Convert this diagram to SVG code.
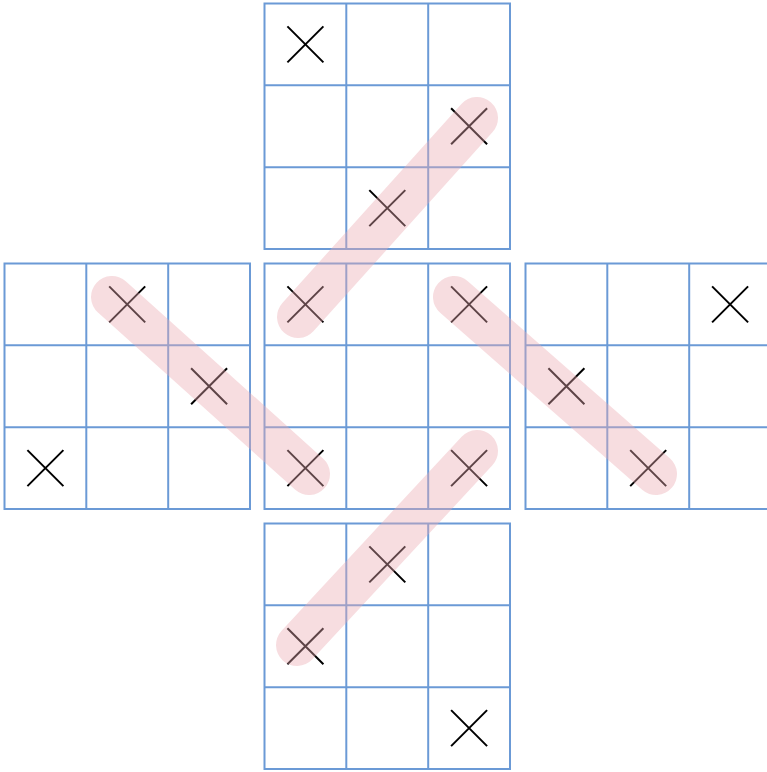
<svg xmlns="http://www.w3.org/2000/svg" xmlns:xlink="http://www.w3.org/1999/xlink" width="767" height="772" viewBox="0 0 767 772">
<style>
.grid line,.grid rect{stroke:#6b9ad6;stroke-width:2;fill:none}
.x{stroke:#000;stroke-width:2;fill:none}
.band{stroke:#ecaab2;stroke-opacity:0.4;stroke-width:42;stroke-linecap:round;fill:none}
</style>
<defs>
<g id="gridT" class="grid">
<rect x="0" y="0" width="245.5" height="245.5"/>
<line x1="81.8" y1="0" x2="81.8" y2="245.5"/>
<line x1="163.7" y1="0" x2="163.7" y2="245.5"/>
<line x1="0" y1="81.8" x2="245.5" y2="81.8"/>
<line x1="0" y1="163.7" x2="245.5" y2="163.7"/>
</g>
<path id="xm" d="M-18,-18L18,18M18,-18L-18,18"/>
</defs>
<rect width="767" height="772" fill="#fff"/>
<g id="grid-top"><use xlink:href="#gridT" x="264.5" y="3.5"/></g>
<g id="grid-left"><use xlink:href="#gridT" x="4.5" y="263.5"/></g>
<g id="grid-center"><use xlink:href="#gridT" x="264.5" y="263.5"/></g>
<g id="grid-right"><use xlink:href="#gridT" x="525.5" y="263.5"/></g>
<g id="grid-bottom"><use xlink:href="#gridT" x="264.5" y="523.5"/></g>
<g id="marks" class="x">
<use xlink:href="#xm" x="305.4" y="44.4"/>
<use xlink:href="#xm" x="469.1" y="126.3"/>
<use xlink:href="#xm" x="387.3" y="208.1"/>
<use xlink:href="#xm" x="127.2" y="304.4"/>
<use xlink:href="#xm" x="209.1" y="386.3"/>
<use xlink:href="#xm" x="45.4" y="468.1"/>
<use xlink:href="#xm" x="305.4" y="304.4"/>
<use xlink:href="#xm" x="469.1" y="304.4"/>
<use xlink:href="#xm" x="305.4" y="468.1"/>
<use xlink:href="#xm" x="469.1" y="468.1"/>
<use xlink:href="#xm" x="730.1" y="304.4"/>
<use xlink:href="#xm" x="566.4" y="386.3"/>
<use xlink:href="#xm" x="648.2" y="468.1"/>
<use xlink:href="#xm" x="387.3" y="564.4"/>
<use xlink:href="#xm" x="305.4" y="646.3"/>
<use xlink:href="#xm" x="469.1" y="728.1"/>
</g>
<g id="connectors" class="band">
<line x1="298" y1="317" x2="477" y2="118"/>
<line x1="112" y1="297" x2="309" y2="474"/>
<line x1="454" y1="297" x2="656" y2="474"/>
<line x1="297" y1="645" x2="477" y2="451"/>
</g>
</svg>
